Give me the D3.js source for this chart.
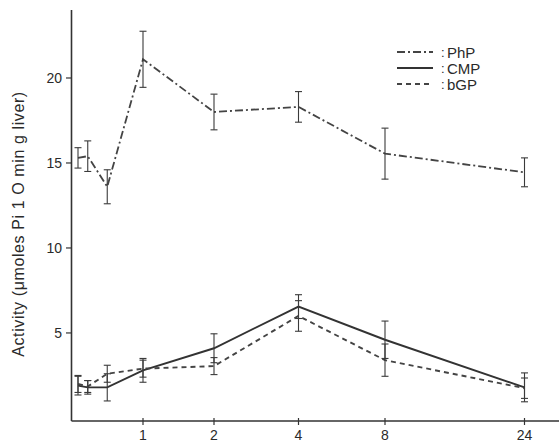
<!DOCTYPE html>
<html>
<head>
<meta charset="utf-8">
<script src="https://cdn.jsdelivr.net/npm/d3@7"></script>
<style>
  body { margin: 0; background: #fff; }
  svg { display: block; }
  text { font-family: "Liberation Sans", Arial, sans-serif; fill: #2a2a2a; }
</style>
</head>
<body>
<svg></svg>
<script>
const width = 559;
const height = 443;

// sampling times (h) and tick labels
const times = [0, 0.15, 0.45, 1, 2, 4, 8, 24];
const xTicks = [1, 2, 4, 8, 24];
const yTicks = [5, 10, 15, 20];

// series values
const phpMean = [15.3, 15.4, 13.6, 21.1, 18.0, 18.3, 15.55, 14.45];
const phpErr  = [0.6, 0.9, 1.0, 1.65, 1.05, 0.9, 1.5, 0.85];
const cmpMean = [1.9, 1.8, 1.8, 2.8, 4.1, 6.55, 4.6, 1.8];
const cmpErr  = [0.55, 0.4, 0.8, 0.7, 0.85, 0.7, 1.1, 0.85];
const bgpMean = [2.0, 1.85, 2.6, 2.9, 3.05, 6.0, 3.4, 1.75];
const bgpErr  = [0.5, 0.35, 0.5, 0.5, 0.5, 0.9, 0.95, 0.6];

const seriesNames = ["PhP", "CMP", "bGP"];

const svg = d3.select("svg")
  .attr("width", width)
  .attr("height", height);

// the time axis of the original is a stretched, roughly log axis
const x = d3.scaleLinear()
  .domain([0, 1, 2, 4, 8, 24])
  .range([78, 143, 214, 298.5, 385, 524.5]);

const y = d3.scaleLinear()
  .domain([-0.18, 24])
  .range([421, 10]);

const ink = "#333";

// axes
svg.append("line")
  .attr("x1", 71.5).attr("x2", 71.5)
  .attr("y1", y(24)).attr("y2", y(-0.18))
  .attr("stroke", ink).attr("stroke-width", 1.6);

svg.append("line")
  .attr("x1", 71.5).attr("x2", width)
  .attr("y1", y(-0.18)).attr("y2", y(-0.18))
  .attr("stroke", ink).attr("stroke-width", 1.6);

// y ticks
const yt = svg.append("g");
yt.selectAll("line")
  .data(yTicks)
  .enter()
  .append("line")
  .attr("x1", 66).attr("x2", 71)
  .attr("y1", d => y(d)).attr("y2", d => y(d))
  .attr("stroke", ink).attr("stroke-width", 1.2);
yt.selectAll("text")
  .data(yTicks)
  .enter()
  .append("text")
  .attr("x", 62)
  .attr("y", d => y(d) + 5)
  .attr("text-anchor", "end")
  .attr("font-size", 14)
  .text(d => d);

// x ticks
const xt = svg.append("g");
xt.selectAll("line")
  .data(xTicks)
  .enter()
  .append("line")
  .attr("x1", d => x(d)).attr("x2", d => x(d))
  .attr("y1", y(-0.18) - 3).attr("y2", y(-0.18) + 4)
  .attr("stroke", ink).attr("stroke-width", 1.2);
xt.selectAll("text")
  .data(xTicks)
  .enter()
  .append("text")
  .attr("x", d => x(d))
  .attr("y", 440)
  .attr("text-anchor", "middle")
  .attr("font-size", 14)
  .text(d => d);

// y label
svg.append("text")
  .attr("transform", "translate(24," + 224 + ") rotate(-90)")
  .attr("text-anchor", "middle")
  .attr("font-size", 16)
  .attr("letter-spacing", 0.6)
  .text("Activity (\u03bcmoles Pi 1 O min g liver)");

const styles = {
  PhP: { dash: "8,3,2,3", width: 1.8, color: "#444" },
  CMP: { dash: null, width: 1.9, color: "#333" },
  bGP: { dash: "5,4", width: 1.9, color: "#444" }
};

const series = [
  { name: "PhP", mean: phpMean, err: phpErr },
  { name: "CMP", mean: cmpMean, err: cmpErr },
  { name: "bGP", mean: bgpMean, err: bgpErr }
];

const line = d3.line()
  .x(d => x(d.t))
  .y(d => y(d.v));

series.forEach(s => {
  const pts = times.map((t, i) => ({ t: t, v: s.mean[i], e: s.err[i] }));
  const st = styles[s.name];

  svg.append("path")
    .datum(pts)
    .attr("d", line)
    .attr("fill", "none")
    .attr("stroke", st.color)
    .attr("stroke-width", st.width)
    .attr("stroke-dasharray", st.dash);

  const bars = svg.append("g").attr("stroke", "#3a3a3a").attr("stroke-width", 1.1);
  bars.selectAll("line.v")
    .data(pts)
    .enter()
    .append("line")
    .attr("class", "v")
    .attr("x1", d => x(d.t)).attr("x2", d => x(d.t))
    .attr("y1", d => y(d.v - d.e)).attr("y2", d => y(d.v + d.e));
  [1, -1].forEach(sg => {
    bars.selectAll("line.c" + (sg > 0 ? "t" : "b"))
      .data(pts)
      .enter()
      .append("line")
      .attr("class", "c" + (sg > 0 ? "t" : "b"))
      .attr("x1", d => x(d.t) - 3.5).attr("x2", d => x(d.t) + 3.5)
      .attr("y1", d => y(d.v + sg * d.e)).attr("y2", d => y(d.v + sg * d.e));
  });
});

// legend
const legend = svg.append("g");
seriesNames.forEach((name, i) => {
  const ly = 52 + i * 16;
  const st = styles[name];
  legend.append("line")
    .attr("x1", 397).attr("x2", 433)
    .attr("y1", ly).attr("y2", ly)
    .attr("stroke", st.color)
    .attr("stroke-width", st.width)
    .attr("stroke-dasharray", st.dash);
  legend.append("text")
    .attr("x", 441)
    .attr("y", ly + 5)
    .attr("font-size", 13)
    .text(":");
  legend.append("text")
    .attr("x", 447)
    .attr("y", ly + 5.5)
    .attr("font-size", 15)
    .text(name);
});
</script>
</body>
</html>
